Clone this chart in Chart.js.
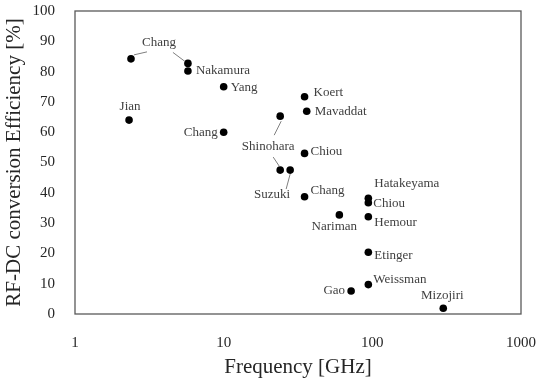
<!DOCTYPE html>
<html lang="en">
<head>
    <meta charset="UTF-8">
    <title>RF-DC conversion efficiency vs frequency</title>
    <script src="https://cdn.jsdelivr.net/npm/chart.js"></script>
    <style>
        html, body { margin: 0; padding: 0; background: #fff; }
        #wrap { width: 550px; height: 380px; }
    </style>
</head>
<body>
    <div id="wrap"><canvas id="effChart" width="550" height="380"></canvas></div>
    <script>
        // Data
        const authors = ['Chang', 'Chang', 'Nakamura', 'Yang', 'Jian', 'Chang', 'Shinohara', 'Shinohara',
            'Suzuki', 'Koert', 'Mavaddat', 'Chiou', 'Chang', 'Hatakeyama', 'Chiou', 'Nariman',
            'Hemour', 'Etinger', 'Weissman', 'Gao', 'Mizojiri'];
        const frequency = [2.38, 5.75, 5.75, 10, 2.31, 10, 24, 24,
            28, 35, 36.2, 35, 35, 94, 94, 60,
            94, 94, 94, 72, 300];
        const efficiency = [84.2, 82.7, 80.2, 75.0, 64.0, 60.0, 65.3, 47.5,
            47.5, 71.7, 66.9, 53.0, 38.7, 38.2, 36.7, 32.7,
            32.1, 20.4, 9.7, 7.6, 1.9];
        const xTicks = [1, 10, 100, 1000];

        // label placement (pixel offsets from the point), null = no label of its own
        const labelPlace = [
            null, [-29, -21, 'center'], [8, 0, 'left'], [7, 1, 'left'], [1, -14, 'center'],
            [-6, 0, 'right'], null, [-12, -23, 'center'], [-18, 25, 'center'], [9, -4, 'left'],
            [8, 0, 'left'], [6, -2, 'left'], [6, -6, 'left'], [6, -15, 'left'], [5, 1, 'left'],
            [-5, 12, 'center'], [6, 6, 'left'], [6, 3, 'left'], [5, -5, 'left'], [-6, 0, 'right'],
            [-1, -13, 'center']
        ];
        // leader lines: point index, start offset, end offset
        const leaders = [
            [0, 3, -4, 16, -7],
            [1, -3, -2, -15, -11],
            [6, 1, 5, -6, 19],
            [7, -1, -4, -7, -13],
            [8, 0, 4, -4, 19]
        ];

        const serif = "'Liberation Serif', 'Times New Roman', serif";

        const pointLabels = {
            id: 'pointLabels',
            afterDatasetsDraw(chart) {
                const ctx = chart.ctx;
                const meta = chart.getDatasetMeta(0);
                ctx.save();
                ctx.strokeStyle = '#7f7f7f';
                ctx.lineWidth = 1;
                leaders.forEach(([i, sx, sy, ex, ey]) => {
                    const p = meta.data[i];
                    ctx.beginPath();
                    ctx.moveTo(p.x + sx, p.y + sy);
                    ctx.lineTo(p.x + ex, p.y + ey);
                    ctx.stroke();
                });
                ctx.fillStyle = '#404040';
                ctx.font = '13px ' + serif;
                ctx.textBaseline = 'middle';
                labelPlace.forEach((pl, i) => {
                    if (!pl) return;
                    const p = meta.data[i];
                    ctx.textAlign = pl[2];
                    ctx.fillText(authors[i], p.x + pl[0], p.y + pl[1]);
                });
                ctx.restore();
            }
        };

        const plotBorder = {
            id: 'plotBorder',
            beforeDatasetsDraw(chart) {
                const {ctx, chartArea: a} = chart;
                ctx.save();
                ctx.strokeStyle = '#595959';
                ctx.lineWidth = 1.3;
                ctx.strokeRect(a.left, a.top, a.right - a.left, a.bottom - a.top);
                ctx.restore();
            }
        };

        const ctx = document.getElementById('effChart').getContext('2d');
        new Chart(ctx, {
            type: 'scatter',
            data: {
                datasets: [{
                    label: 'Efficiency',
                    data: frequency.map((f, i) => ({x: f, y: efficiency[i]})),
                    backgroundColor: '#000',
                    borderWidth: 0,
                    pointRadius: 3.8,
                    pointHoverRadius: 3.8
                }]
            },
            options: {
                responsive: false,
                animation: false,
                layout: { autoPadding: false, padding: { top: 11, right: 29, left: 0, bottom: 0 } },
                plugins: {
                    legend: { display: false },
                    tooltip: { enabled: false }
                },
                scales: {
                    x: {
                        type: 'logarithmic',
                        min: 1,
                        max: 1000,
                        afterBuildTicks: (axis) => { axis.ticks = xTicks.map(v => ({value: v})); },
                        afterFit: (axis) => {
                            axis.height = 66;
                            axis.paddingLeft = 0;
                            axis.paddingRight = 0;
                        },
                        grid: { display: false, drawTicks: false },
                        border: { display: false },
                        ticks: {
                            color: '#262626',
                            font: { family: serif, size: 15 },
                            padding: 20,
                            maxRotation: 0,
                            callback: (v) => String(v)
                        },
                        title: {
                            display: true,
                            text: 'Frequency [GHz]',
                            color: '#262626',
                            font: { family: serif, size: 21 },
                            padding: { top: 0, bottom: 0 }
                        }
                    },
                    y: {
                        min: 0,
                        max: 100,
                        afterFit: (axis) => {
                            axis.width = 75;
                            axis.paddingTop = 0;
                            axis.paddingBottom = 0;
                        },
                        grid: { display: false, drawTicks: false },
                        border: { display: false },
                        ticks: {
                            stepSize: 10,
                            color: '#262626',
                            font: { family: serif, size: 15 },
                            padding: 20
                        },
                        title: {
                            display: true,
                            text: 'RF-DC conversion Efficiency [%]',
                            color: '#262626',
                            font: { family: serif, size: 21 },
                            padding: { top: 2, bottom: 0 }
                        }
                    }
                }
            },
            plugins: [plotBorder, pointLabels]
        });
    </script>
</body>
</html>
